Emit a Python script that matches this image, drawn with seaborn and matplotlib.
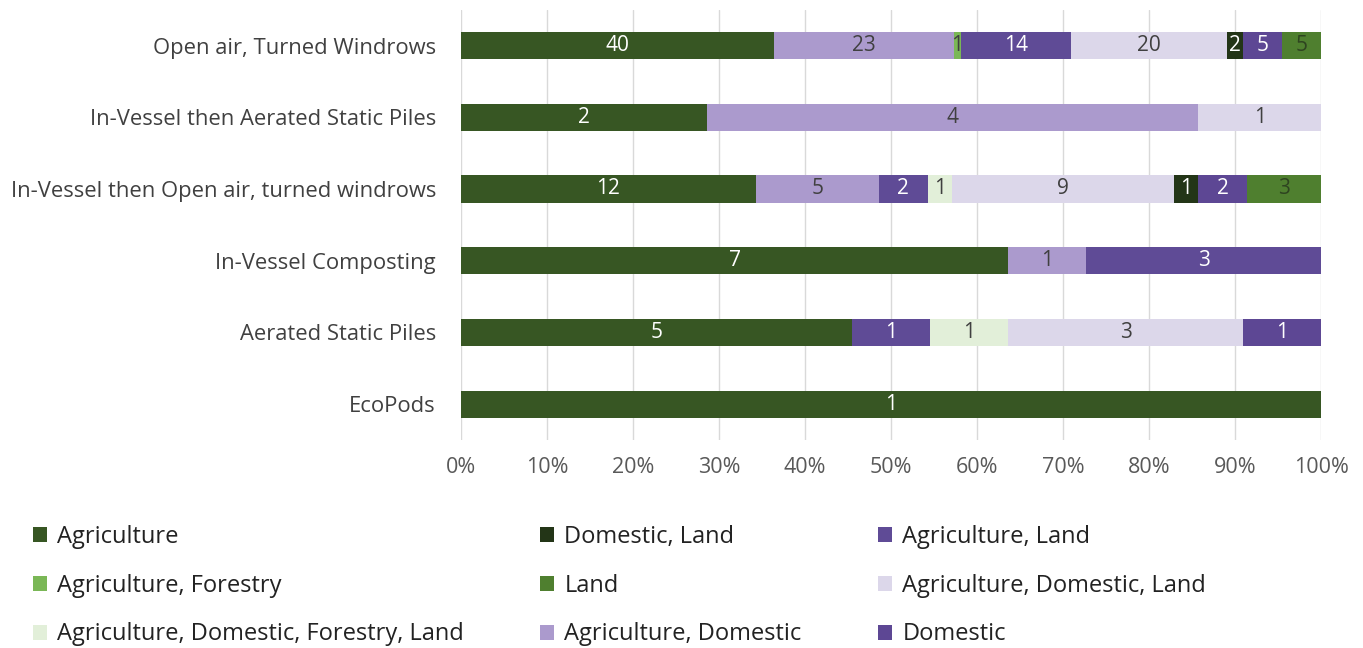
import numpy as np
import pandas as pd
import matplotlib
matplotlib.use("Agg")
import matplotlib.pyplot as plt
from matplotlib.patches import Patch
import seaborn as sns

# Composting methods (top to bottom)
methods = [
    "Open air, Turned Windrows",
    "In-Vessel then Aerated Static Piles",
    "In-Vessel then Open air, turned windrows",
    "In-Vessel Composting",
    "Aerated Static Piles",
    "EcoPods",
]

# End-use categories in stacking order (left to right)
end_uses = [
    "Agriculture",
    "Agriculture, Domestic",
    "Agriculture, Forestry",
    "Agriculture, Land",
    "Agriculture, Domestic, Forestry, Land",
    "Agriculture, Domestic, Land",
    "Domestic, Land",
    "Domestic",
    "Land",
]

# Counts per method, one list per end-use (same order as methods)
agriculture            = [40, 2, 12, 7, 5, 1]
agri_domestic          = [23, 4, 5, 1, 0, 0]
agri_forestry          = [1, 0, 0, 0, 0, 0]
agri_land              = [14, 0, 2, 3, 1, 0]
agri_dom_forestry_land = [0, 0, 1, 0, 1, 0]
agri_domestic_land     = [20, 1, 9, 0, 3, 0]
domestic_land          = [2, 0, 1, 0, 0, 0]
domestic               = [5, 0, 2, 0, 1, 0]
land                   = [5, 0, 3, 0, 0, 0]

colors = {
    "Agriculture": "#375623",
    "Agriculture, Domestic": "#ab9acd",
    "Agriculture, Forestry": "#7ab756",
    "Agriculture, Land": "#5f4b96",
    "Agriculture, Domestic, Forestry, Land": "#e2efd9",
    "Agriculture, Domestic, Land": "#dcd7ea",
    "Domestic, Land": "#233517",
    "Domestic": "#5d4794",
    "Land": "#4f7f2f",
}
dark_text = {"Agriculture, Domestic", "Agriculture, Forestry",
             "Agriculture, Domestic, Forestry, Land",
             "Agriculture, Domestic, Land", "Land"}

counts = pd.DataFrame(
    np.array([agriculture, agri_domestic, agri_forestry, agri_land,
              agri_dom_forestry_land, agri_domestic_land, domestic_land,
              domestic, land]).T,
    index=methods, columns=end_uses,
)
share = counts.div(counts.sum(axis=1), axis=0) * 100
cum = share.cumsum(axis=1)

sns.set_theme(style="white")
plt.rcParams["font.family"] = ["Open Sans", "DejaVu Sans"]

fig = plt.figure(figsize=(13.63, 6.48), dpi=100)
ax = fig.add_axes([0.3382, 0.321, 0.6310, 0.664])

# Overlapping cumulative bars, widest first, give the 100% stacked look
for cat in reversed(end_uses):
    df = pd.DataFrame({"method": methods, "pct": cum[cat].values})
    sns.barplot(data=df, x="pct", y="method", order=methods, orient="h",
                color=colors[cat], saturation=1, width=0.38, ax=ax,
                linewidth=0, errorbar=None)

# Segment count labels
for i, m in enumerate(methods):
    for cat in end_uses:
        v = counts.loc[m, cat]
        if v == 0:
            continue
        x = cum.loc[m, cat] - share.loc[m, cat] / 2
        tc = "#404040" if cat in dark_text else "white"
        if cat == "Land":
            tc = "#2e4420"
        ax.text(x, i, str(v), ha="center", va="center", fontsize=15,
                color=tc)

ax.set_xlim(0, 100)
ax.set_ylim(5.5, -0.5)
ax.set_xticks(np.arange(0, 101, 10))
ax.set_xticklabels([f"{t}%" for t in range(0, 101, 10)])
ax.set_xlabel("")
ax.set_ylabel("")
ax.grid(axis="x", color="#d9d9d9", linewidth=1)
ax.set_axisbelow(True)
for s in ax.spines.values():
    s.set_visible(False)
ax.tick_params(axis="x", labelsize=15.5, colors="#595959", pad=12, length=0)
ax.tick_params(axis="y", labelsize=15.8, colors="#404040", pad=18, length=0)

# Legend, filled column by column
legend_order = [
    "Agriculture", "Agriculture, Forestry",
    "Agriculture, Domestic, Forestry, Land",
    "Domestic, Land", "Land", "Agriculture, Domestic",
    "Agriculture, Land", "Agriculture, Domestic, Land", "Domestic",
]
handles = [Patch(facecolor=colors[c], edgecolor="none") for c in legend_order]
fig.legend(handles, legend_order, loc="upper left",
           bbox_to_anchor=(0.017, 0.204), ncol=3, frameon=False,
           fontsize=17, handlelength=0.6, handleheight=0.6,
           handletextpad=0.42, columnspacing=3.25, labelspacing=1.04,
           borderaxespad=0, labelcolor="#222222")

fig.savefig("out.png", dpi=100)
